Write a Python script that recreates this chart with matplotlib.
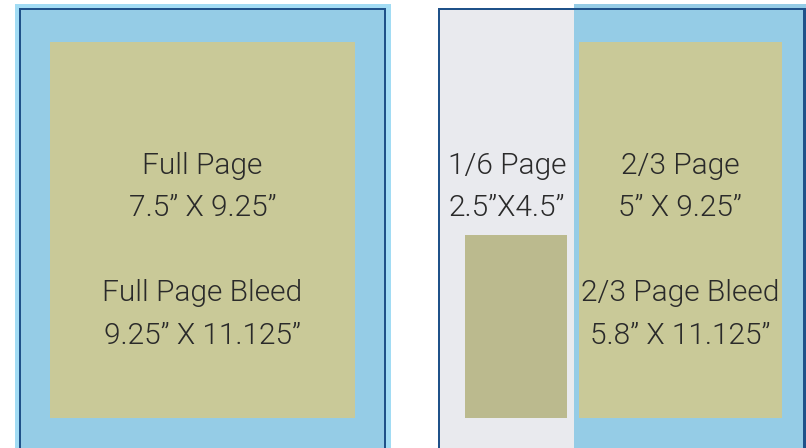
import matplotlib
matplotlib.use("Agg")
import matplotlib.pyplot as plt
from matplotlib.patches import Rectangle
from matplotlib import font_manager as fm

# ---- content ----
left_labels = ["Full Page", "7.5\u201d X 9.25\u201d", "Full Page Bleed", "9.25\u201d X 11.125\u201d"]
sixth_labels = ["1/6 Page", "2.5\u201dX4.5\u201d"]
twothird_labels = ["2/3 Page", "5\u201d X 9.25\u201d", "2/3 Page Bleed", "5.8\u201d X 11.125\u201d"]

# ---- colours ----
BLEED_LIGHT = "#a2dcf4"
PAGE_BLUE = "#95cce6"
BORDER = "#1f5189"
TAN = "#c9c998"
TAN_DARK = "#bbba8e"
GRAY = "#e9eaee"
TEXT = "#2a2a2a"

W, H = 806, 448
fig = plt.figure(figsize=(W / 100, H / 100), dpi=100)
ax = fig.add_axes([0, 0, 1, 1])
ax.set_xlim(0, W)
ax.set_ylim(H, 0)
ax.axis("off")


def rect(x0, y0, x1, y1, color, z=1):
    ax.add_patch(Rectangle((x0, y0), x1 - x0, y1 - y0, facecolor=color,
                           edgecolor="none", zorder=z))


# pick a light font, preferring Roboto
fp = None
for fam in ("Roboto", "Lato", "Open Sans", "Inter", "Noto Sans"):
    for f in fm.fontManager.ttflist:
        if f.name == fam and f.style == "normal" and \
                (f.weight in (300, "light") or "Light" in f.fname) and \
                "Extra" not in f.fname and "Semi" not in f.fname and "Italic" not in f.fname:
            fp = fm.FontProperties(fname=f.fname)
            break
    if fp is not None:
        break
if fp is None:
    fp = fm.FontProperties(family="Liberation Sans")

# ---- left page ----
rect(15, 4, 391, H, BLEED_LIGHT)
rect(21, 10, 384, H, PAGE_BLUE)
rect(19, 8, 386, 10, BORDER, 3)
rect(19, 8, 21, H, BORDER, 3)
rect(384, 8, 386, H, BORDER, 3)
rect(50, 42, 355, 418, TAN, 2)

# ---- right page ----
rect(440, 10, 574, H, GRAY)
rect(574, 4, W, H, PAGE_BLUE)
rect(438, 8, 806, 10, BORDER, 3)
rect(438, 8, 440, H, BORDER, 3)
rect(803, 8, 806, H, BORDER, 3)
rect(579, 42, 782, 418, TAN, 2)
rect(465, 235, 567, 418, TAN_DARK, 2)

fs = 21.5
ys = [163, 205, 290, 333]
for lab, y in zip(left_labels, ys):
    ax.text(202.5, y, lab, ha="center", va="center_baseline", fontproperties=fp,
            fontsize=fs, color=TEXT, zorder=5)
for lab, y in zip(sixth_labels, ys[:2]):
    ax.text(507, y, lab, ha="center", va="center_baseline", fontproperties=fp,
            fontsize=fs, color=TEXT, zorder=5)
for lab, y in zip(twothird_labels, ys):
    ax.text(680, y, lab, ha="center", va="center_baseline", fontproperties=fp,
            fontsize=fs, color=TEXT, zorder=5)

fig.savefig("out.png", dpi=100)
